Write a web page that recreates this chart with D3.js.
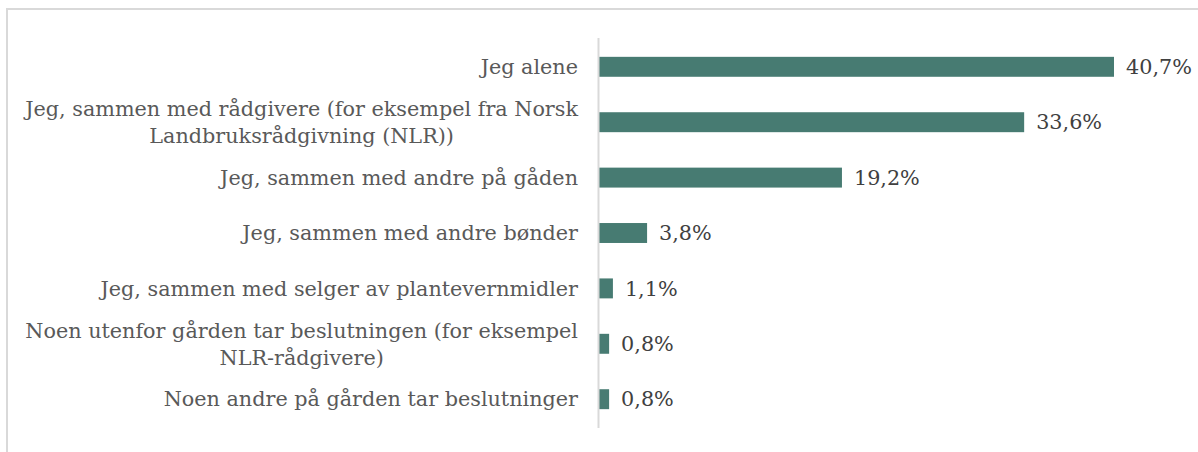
<!DOCTYPE html>
<html><head><meta charset="utf-8">
<script src="https://cdn.jsdelivr.net/npm/d3@7"></script>
<style>body{margin:0;background:#fff;}svg{display:block;}</style>
</head><body>
<svg id="c" width="1198" height="452"></svg>
<script>
const categories = [
  ["Jeg alene"],
  ["Jeg, sammen med rådgivere (for eksempel fra Norsk", "Landbruksrådgivning (NLR))"],
  ["Jeg, sammen med andre på gåden"],
  ["Jeg, sammen med andre bønder"],
  ["Jeg, sammen med selger av plantevernmidler"],
  ["Noen utenfor gården tar beslutningen (for eksempel", "NLR-rådgivere)"],
  ["Noen andre på gården tar beslutninger"]
];
const values = [40.7, 33.6, 19.2, 3.8, 1.1, 0.8, 0.8];
const valueLabels = ["40,7%", "33,6%", "19,2%", "3,8%", "1,1%", "0,8%", "0,8%"];

const svg = d3.select("#c");
const font = "'DejaVu Serif', serif";

// fit font size so the widest label line is ~553px
const probe = svg.append("text").attr("font-family", font).attr("font-size", 20)
  .text(categories[1][0]);
const pw = probe.node().getComputedTextLength();
probe.remove();
const fs = 20 * 553 / pw;

svg.append("rect").attr("x", 7).attr("y", 9).attr("width", 1200).attr("height", 460)
  .attr("fill", "none").attr("stroke", "#d9d9d9").attr("stroke-width", 2);

const x0 = 599;
const x = d3.scaleLinear().domain([0, 40.7]).range([x0, 1114]);
const idx = d3.range(categories.length);
const y = d3.scaleBand().domain(idx).range([38, 428]).paddingInner(0.64).paddingOuter(0.34);

svg.selectAll("rect.bar").data(values).join("rect").attr("class", "bar")
  .attr("x", x0).attr("y", (d, i) => y(i)).attr("height", y.bandwidth())
  .attr("width", d => x(d) - x0).attr("fill", "#477b72");

svg.append("line").attr("x1", x0 - 0.5).attr("x2", x0 - 0.5).attr("y1", 38).attr("y2", 428)
  .attr("stroke", "#d9d9d9").attr("stroke-width", 2);

svg.selectAll("text.val").data(values).join("text").attr("class", "val")
  .attr("x", d => x(d) + 12).attr("y", (d, i) => y(i) + y.bandwidth() / 2)
  .attr("dy", "0.35em").attr("font-family", font).attr("font-size", fs)
  .attr("fill", "#404040").text((d, i) => valueLabels[i]);

const labelRight = 578;
const lineH = 27;
categories.forEach((lines, i) => {
  const cy = y(i) + y.bandwidth() / 2;
  const g = svg.append("g");
  const texts = lines.map((t, k) => g.append("text")
    .attr("y", cy + (k - (lines.length - 1) / 2) * lineH)
    .attr("dy", "0.35em").attr("font-family", font).attr("font-size", fs)
    .attr("fill", "#595959").attr("text-anchor", "middle").text(t));
  const w = d3.max(texts, t => t.node().getComputedTextLength());
  texts.forEach(t => t.attr("x", labelRight - w / 2));
});
</script>
</body></html>
